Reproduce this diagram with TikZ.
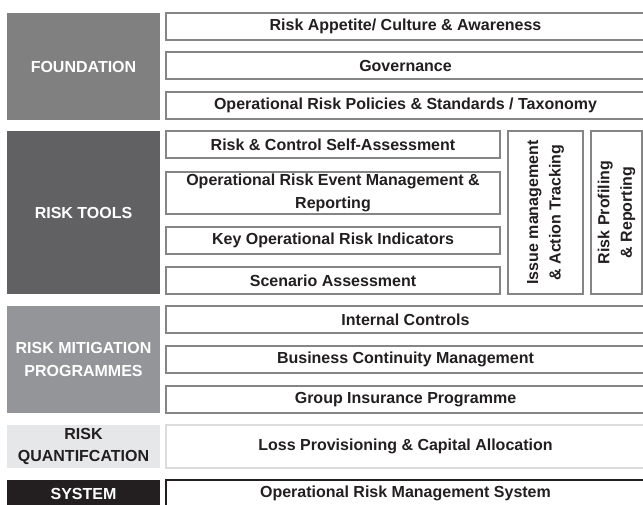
\documentclass[tikz,border=0pt]{standalone}
\usepackage{fontspec}
\setmainfont{Liberation Sans}
\definecolor{cfound}{HTML}{808080}
\definecolor{ctools}{HTML}{616163}
\definecolor{cmitig}{HTML}{939598}
\definecolor{cquant}{HTML}{E6E7E8}
\definecolor{csys}{HTML}{231F20}
\definecolor{cborder}{HTML}{858585}
\definecolor{clight}{HTML}{DCDCDC}
\definecolor{ctext}{HTML}{231F20}
\tikzset{
  base/.style={inner sep=0pt, outer sep=0pt, align=center,
    font=\fontsize{16}{22.5}\selectfont\bfseries},
  lbl/.style={base, text=white},
  wbox/.style={base, draw=cborder, line width=1.1pt, fill=white, text=ctext},
}
\newcommand{\bx}[7]{% name, style, x1, y1, x2, y2, text
  \node[#2, minimum width={(#5-#3)*1pt}, minimum height={(#6-#4)*1pt}]
    (#1) at ({(#3+#5)/2},{(#4+#6)/2}) {#7};}
\begin{document}
\begin{tikzpicture}[x=1pt, y=-1pt]
\useasboundingbox[fill=white] (0,0) rectangle (643,505);
% left labels
\bx{found}{lbl, fill=cfound}{7}{13}{160}{120}{FOUNDATION}
\bx{tools}{lbl, fill=ctools}{7}{131}{160}{294}{RISK TOOLS}
\bx{mitig}{lbl, fill=cmitig}{7}{306}{160}{413}{RISK MITIGATION\\PROGRAMMES}
\bx{quant}{base, fill=cquant, text=ctext}{7}{425}{160}{468}{RISK\\QUANTIFCATION}
\bx{sys}{lbl, fill=csys}{7}{480}{160}{507}{SYSTEM}
% foundation
\bx{f1}{wbox}{166}{13}{645}{40}{Risk Appetite/ Culture \& Awareness}
\bx{f2}{wbox}{166}{52}{645}{79}{Governance}
\bx{f3}{wbox}{166}{92}{645}{119}{Operational Risk Policies \& Standards / Taxonomy}
% tools
\bx{t1}{wbox}{166}{131}{500}{158}{Risk \& Control Self-Assessment}
\bx{t2}{wbox}{166}{172}{500}{214}{Operational Risk Event Management \&\\Reporting}
\bx{t3}{wbox}{166}{227}{500}{254}{Key Operational Risk Indicators}
\bx{t4}{wbox}{166}{267}{500}{294}{Scenario Assessment}
\node[wbox, rotate=90, minimum width=163pt, minimum height=75pt]
  (issue) at (545.5,212.5) {Issue management\\\& Action Tracking};
\node[wbox, rotate=90, minimum width=163pt, minimum height=51pt]
  (prof) at (616.5,212.5) {Risk Profiling\\\& Reporting};
% mitigation
\bx{m1}{wbox}{166}{306}{645}{333}{Internal Controls}
\bx{m2}{wbox}{166}{346}{645}{373}{Business Continuity Management}
\bx{m3}{wbox}{166}{386}{645}{413}{Group Insurance Programme}
% quantification
\bx{q1}{wbox, draw=clight}{166}{425}{645}{468}{Loss Provisioning \& Capital Allocation}
% system
\bx{s1}{wbox, draw=csys}{166}{480}{645}{507}{Operational Risk Management System}
\end{tikzpicture}
\end{document}
